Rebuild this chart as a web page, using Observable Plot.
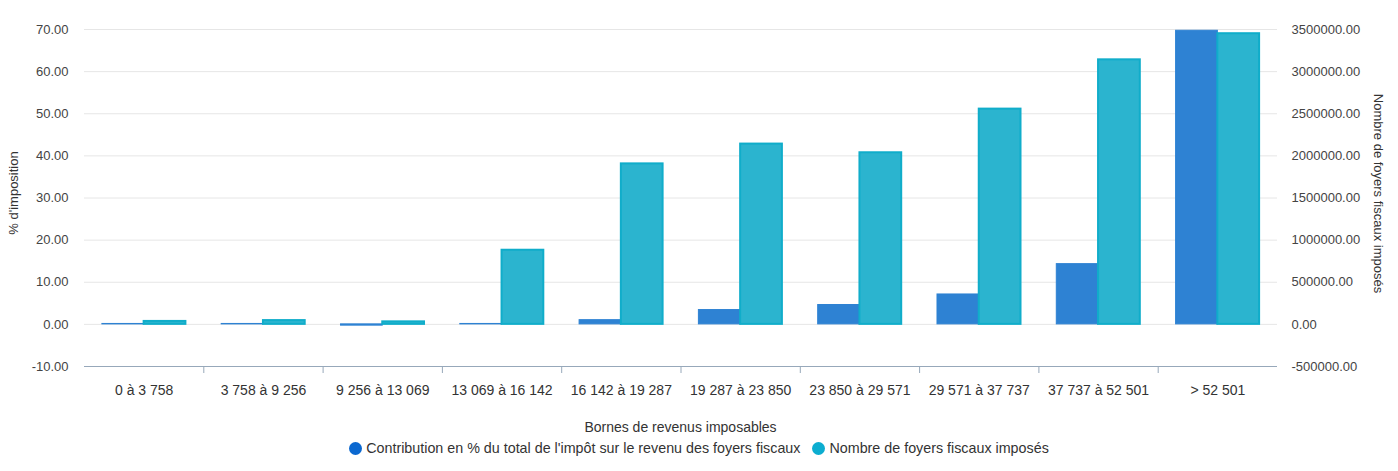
<!DOCTYPE html>
<html>
<head>
<meta charset="utf-8">
<script src="https://cdn.jsdelivr.net/npm/d3@7"></script>
<script src="https://cdn.jsdelivr.net/npm/@observablehq/plot@0.6"></script>
<style>
  html, body { margin: 0; padding: 0; background: #fff; }
  body { font-family: "Liberation Sans", Arial, Helvetica, sans-serif; width: 1398px; }
  #chart svg { display: block; }
  #xtitle { box-sizing: border-box; width: 1398px; padding-left: 84px; padding-right: 121px; margin-top: 5px;
            height: 24px; line-height: 24px; text-align: center; font-size: 14px; color: #333; }
  #legend { width: 1398px; height: 18px; display: flex; justify-content: center; align-items: center;
            font-size: 14.3px; color: #333; padding-left: 0px; box-sizing: border-box; }
  .item { display: flex; align-items: center; margin: 0 6px; white-space: nowrap; }
  .dot { width: 13px; height: 13px; border-radius: 50%; margin-right: 4px; }
</style>
</head>
<body>
<div id="chart"></div>
<div id="xtitle"></div>
<div id="legend"></div>
<script>
// ---- Data ----
const categories = ["0 à 3 758", "3 758 à 9 256", "9 256 à 13 069", "13 069 à 16 142", "16 142 à 19 287",
  "19 287 à 23 850", "23 850 à 29 571", "29 571 à 37 737", "37 737 à 52 501", "> 52 501"];
const contribution = [0.1, 0.1, -0.3, 0.1, 1.0, 3.4, 4.6, 7.1, 14.3, 69.7];
const foyers = [35000, 45000, 30000, 880000, 1905000, 2140000, 2036880, 2555000, 3140000, 3450000];
const leftTicks = [-10, 0, 10, 20, 30, 40, 50, 60, 70];
const rightTicks = [-500000, 0, 500000, 1000000, 1500000, 2000000, 2500000, 3000000, 3500000];
const seriesNames = ["Contribution en % du total de l'impôt sur le revenu des foyers fiscaux", "Nombre de foyers fiscaux imposés"];
const seriesColors = ["#0b68d0", "#0cadd0"];
const barFills = ["#2e82d3", "#2bb4cf"];
const barStrokes = ["#2e82d3", "#10adca"];
const leftTitle = "% d'imposition";
const rightTitle = "Nombre de foyers fiscaux imposés";
const xTitle = "Bornes de revenus imposables";

// right axis maps onto left axis: rightTicks[i] / leftTicks[i]
const ratio = rightTicks[rightTicks.length - 1] / leftTicks[leftTicks.length - 1];

const rows = categories.map((c, i) => ({cat: c, contribution: contribution[i], foyers: foyers[i]}));

// ---- Layout ----
const W = 1398, H = 410, ML = 84, MR = 121, MT = 29, MB = 44;
const step = (W - ML - MR) / categories.length;
const groupPad = 0.15 * step;
const barW = 0.35 * step;
const axisColor = "#97a8ba";
const font = "'Liberation Sans', Arial, Helvetica, sans-serif";

const chart = Plot.plot({
  width: W, height: H,
  marginLeft: ML, marginRight: MR, marginTop: MT, marginBottom: MB,
  style: {fontFamily: font, background: "#fff", overflow: "visible"},
  x: {domain: categories, padding: 0, round: false},
  y: {domain: [leftTicks[0], leftTicks[leftTicks.length - 1]], nice: false},
  marks: [
    Plot.gridY(leftTicks, {stroke: "#e6e6e6", strokeOpacity: 1}),
    Plot.barY(rows, {x: "cat", y: "contribution", fill: barFills[0], stroke: barStrokes[0], strokeWidth: 1,
      insetLeft: groupPad, insetRight: step - groupPad - barW}),
    Plot.barY(rows, {x: "cat", y: d => d.foyers / ratio, fill: barFills[1], stroke: barStrokes[1], strokeWidth: 2,
      insetLeft: groupPad + barW, insetRight: step - groupPad - 2 * barW}),
    Plot.ruleY([leftTicks[0]], {stroke: axisColor, strokeWidth: 1}),
    Plot.axisX(categories.slice(1), {anchor: "bottom", tickSize: 7, stroke: axisColor, tickFormat: () => "", dx: -step / 2, label: null}),
    Plot.axisX({anchor: "bottom", tickSize: 0, tickPadding: 19, fontSize: 14, fill: "#333", label: null}),
    Plot.axisY(leftTicks, {anchor: "left", tickSize: 0, tickPadding: 16, fontSize: 13, fill: "#444",
      tickFormat: d => d.toFixed(2), label: null}),
    Plot.axisY(leftTicks, {anchor: "right", tickSize: 0, tickPadding: 14, fontSize: 13, fill: "#444",
      tickFormat: d => (d * ratio).toFixed(2), label: null}),
    Plot.text([leftTitle], {frameAnchor: "left", textAnchor: "middle", lineAnchor: "middle", rotate: -90, dx: -70.5, dy: -5, fontSize: 13, fill: "#333"}),
    Plot.text([rightTitle], {frameAnchor: "right", textAnchor: "middle", lineAnchor: "middle", rotate: 90, dx: 100.5, dy: -4.5, fontSize: 13, fill: "#333"})
  ]
});
document.getElementById("chart").appendChild(chart);
document.getElementById("xtitle").textContent = xTitle;

const legend = document.getElementById("legend");
seriesNames.forEach((name, i) => {
  const item = document.createElement("div");
  item.className = "item";
  const dot = document.createElement("span");
  dot.className = "dot";
  dot.style.background = seriesColors[i];
  const label = document.createElement("span");
  label.textContent = name;
  item.appendChild(dot);
  item.appendChild(label);
  legend.appendChild(item);
});
</script>
</body>
</html>
